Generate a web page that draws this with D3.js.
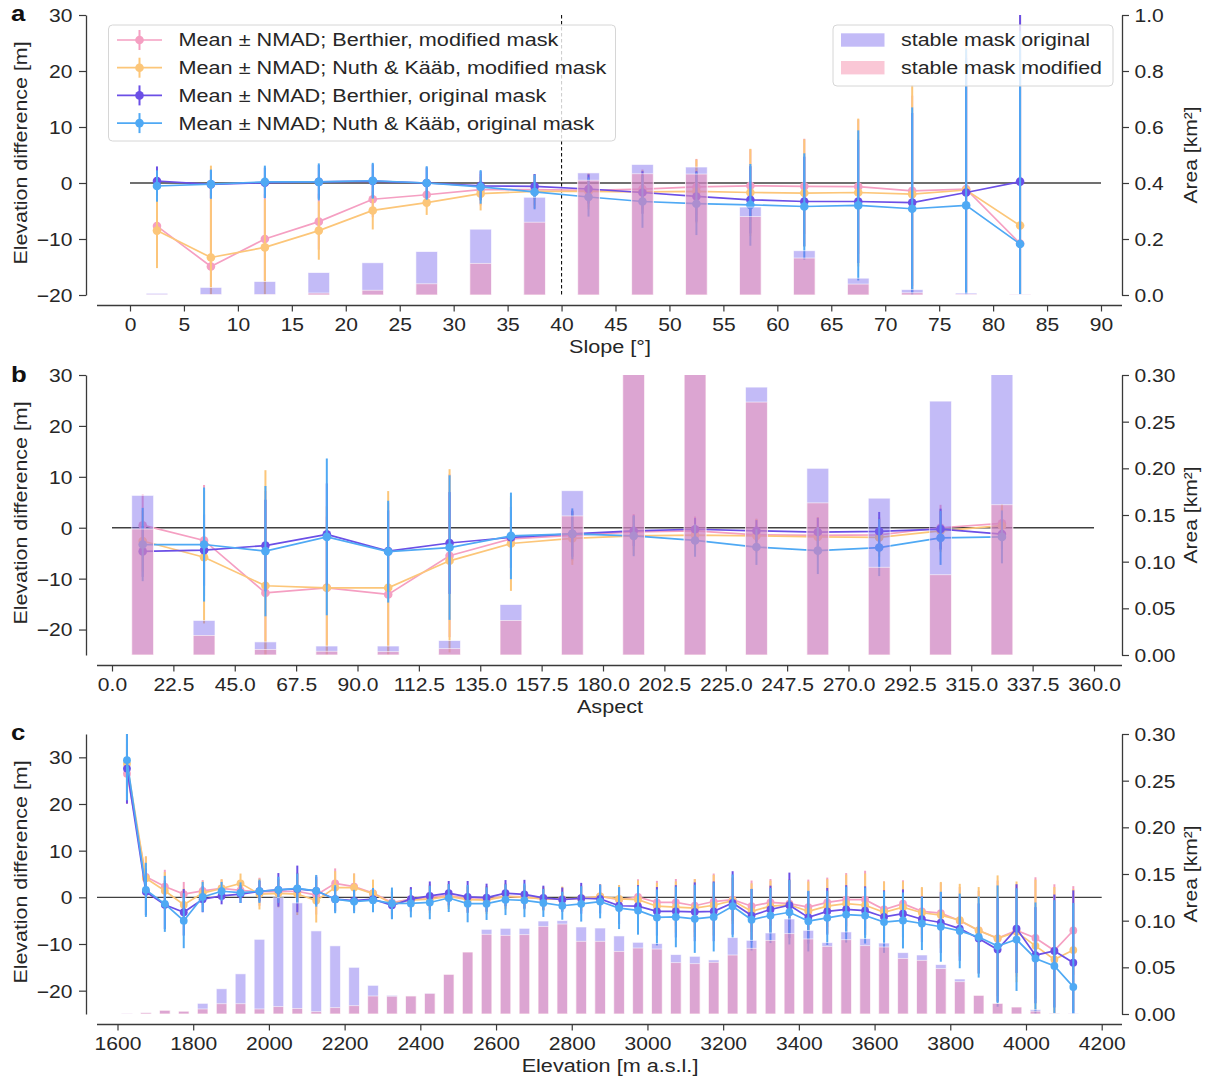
<!DOCTYPE html>
<html><head><meta charset="utf-8">
<script src="https://cdn.jsdelivr.net/npm/d3@7"></script>
<style>
body{margin:0;background:#fff;}
svg{display:block;font-family:"Liberation Sans",Arial,sans-serif;}
</style></head><body>
<script>
// ---------------- DATA ----------------
// Panel a: slope
const slopeBins = [2.5,7.5,12.5,17.5,22.5,27.5,32.5,37.5,42.5,47.5,52.5,57.5,62.5,67.5,72.5,77.5,82.5];
const slopeTicks = [0,5,10,15,20,25,30,35,40,45,50,55,60,65,70,75,80,85,90];
const slopeMeanBerthierMod = [-7.7,-14.9,-10.0,-6.9,-2.9,-2.1,-1.2,-1.2,-1.3,-1.1,-0.7,-0.5,-0.6,-0.65,-1.4,-1.1,-10.8];
const slopeMeanNuthMod = [-8.5,-13.3,-11.5,-8.5,-4.9,-3.5,-1.9,-1.5,-1.5,-1.6,-1.5,-1.7,-1.8,-1.7,-2.0,-1.25,-7.6];
const slopeMeanBerthierOrig = [0.36,-0.24,0.05,0.2,0.35,0.0,-0.5,-0.6,-1.07,-1.7,-2.4,-3.0,-3.3,-3.3,-3.5,-1.7,0.24];
const slopeMeanNuthOrig = [-0.54,-0.2,0.2,0.2,0.4,0.0,-0.7,-1.6,-2.5,-3.3,-3.7,-3.9,-4.2,-4.0,-4.6,-4.0,-10.9];
const slopeNmadBerthierMod = [6.5,15.0,8.0,5.0,3.2,2.0,2.8,2.8,3.0,3.5,5.0,6.5,8.5,12.0,17.0,24.0,34.0];
const slopeNmadNuthMod = [6.7,16.4,8.6,5.2,3.4,2.2,3.0,3.0,3.2,3.8,5.7,7.8,9.6,13.2,19.5,27.0,38.0];
const slopeNmadBerthierOrig = [2.6,2.5,2.7,3.0,3.0,2.8,2.6,2.2,2.6,3.8,4.5,6.0,8.0,11.0,16.0,24.0,30.0];
const slopeNmadNuthOrig = [2.8,2.6,2.9,3.3,3.2,3.0,3.0,3.1,3.5,4.7,5.6,7.3,9.5,13.4,18.1,28.0,38.0];
const slopeAreaOrig = [0.006,0.027,0.048,0.08,0.115,0.155,0.235,0.349,0.436,0.466,0.457,0.314,0.158,0.06,0.019,0.007,0.002];
const slopeAreaMod = [0.001,0.002,0.002,0.007,0.017,0.04,0.113,0.26,0.41,0.433,0.432,0.28,0.132,0.039,0.008,0.003,0.001];

// Panel b: aspect
const aspectBins = [11.25,33.75,56.25,78.75,101.25,123.75,146.25,168.75,191.25,213.75,236.25,258.75,281.25,303.75,326.25];
const aspectTicks = [0,22.5,45,67.5,90,112.5,135,157.5,180,202.5,225,247.5,270,292.5,315,337.5,360];
const aspectMeanBerthierMod = [0.5,-2.5,-12.8,-11.8,-13.1,-5.5,-2.2,-1.5,-0.8,-0.6,-1.4,-1.5,-1.4,0.0,0.85];
const aspectMeanNuthMod = [-2.6,-5.8,-11.4,-11.8,-11.8,-6.5,-3.1,-2.1,-1.6,-1.45,-1.6,-1.8,-1.9,-0.6,0.4];
const aspectMeanBerthierOrig = [-4.65,-4.4,-3.5,-1.3,-4.6,-3.0,-1.9,-1.2,-0.6,-0.3,-0.6,-0.85,-0.7,-0.26,-1.25];
const aspectMeanNuthOrig = [-3.3,-3.3,-4.6,-1.8,-4.7,-3.9,-1.6,-1.2,-1.6,-2.5,-3.8,-4.5,-3.9,-2.0,-1.8];
const aspectNmadBerthierMod = [6.0,10.9,20.0,14.0,18.0,16.0,8.0,5.0,3.5,2.8,3.2,3.6,3.5,4.5,3.5];
const aspectNmadNuthMod = [6.0,13.0,22.7,16.0,19.0,18.0,9.3,5.2,3.8,3.2,3.3,3.8,3.8,4.2,4.2];
const aspectNmadBerthierOrig = [5.0,7.0,9.0,10.0,8.0,10.0,6.0,4.5,3.0,2.2,2.1,2.8,3.8,4.0,3.0];
const aspectNmadNuthOrig = [7.2,11.2,12.8,15.4,10.0,14.2,8.5,5.0,4.0,3.2,3.5,4.6,5.6,5.3,5.2];
const aspectAreaOrig = [0.171,0.037,0.014,0.0096,0.0096,0.0154,0.054,0.176,0.34,0.33,0.287,0.2,0.168,0.272,0.32];
const aspectAreaMod = [0.135,0.021,0.006,0.004,0.0036,0.0068,0.037,0.149,0.33,0.32,0.271,0.163,0.094,0.086,0.161];

// Panel c: elevation
const elevBins = [1625,1675,1725,1775,1825,1875,1925,1975,2025,2075,2125,2175,2225,2275,2325,2375,2425,2475,2525,2575,2625,2675,2725,2775,2825,2875,2925,2975,3025,3075,3125,3175,3225,3275,3325,3375,3425,3475,3525,3575,3625,3675,3725,3775,3825,3875,3925,3975,4025,4075,4125];
const elevTicks = [1600,1800,2000,2200,2400,2600,2800,3000,3200,3400,3600,3800,4000,4200];
const elevMeanBerthierMod = [26.5,4.4,2.3,0.7,1.4,1.9,1.5,1.2,1.2,1.3,0.5,3.0,2.3,0.9,-1.1,-0.4,0.0,0.4,-0.3,-0.4,0.2,0.1,-0.35,-0.4,-0.3,0.2,-0.5,0.07,-1.07,-1.07,-1.8,-0.9,-0.5,-1.9,-1.07,-1.35,-2.1,-1.07,-0.5,-0.5,-2.6,-1.35,-3.0,-3.4,-5.0,-7.1,-8.8,-7.1,-8.7,-11.4,-7.1];
const elevMeanNuthMod = [28.6,4.1,1.4,-1.6,0.9,1.9,3.0,0.7,0.85,0.7,-0.7,2.1,2.1,0.8,-1.3,-0.6,-0.4,0.2,-0.5,-0.6,0.2,0.0,-0.35,-0.4,-0.2,0.2,-0.35,-0.5,-1.9,-2.1,-2.3,-1.7,-0.7,-3.0,-1.9,-1.6,-3.0,-1.9,-1.35,-1.7,-3.2,-2.1,-3.3,-3.8,-4.9,-7.1,-8.8,-7.4,-10.4,-13.3,-11.3];
const elevMeanBerthierOrig = [27.6,1.2,-1.6,-3.2,-0.4,0.3,0.7,1.3,1.6,1.8,1.4,-0.4,-0.7,-0.4,-1.7,-0.4,0.3,0.9,0.1,-0.07,0.9,0.65,-0.1,-0.5,-0.2,-0.35,-1.8,-1.9,-3.0,-3.0,-3.1,-3.0,-1.2,-3.9,-2.6,-1.7,-4.3,-3.0,-2.6,-2.85,-4.2,-3.5,-4.7,-5.4,-6.7,-8.8,-11.2,-6.7,-12.4,-11.5,-14.0];
const elevMeanNuthOrig = [29.4,1.6,-1.4,-5.0,0.1,1.3,1.0,1.3,1.6,1.9,1.4,-0.4,-0.9,-0.6,-1.3,-1.3,-1.1,-0.15,-1.35,-1.35,-0.5,-0.65,-1.2,-1.8,-1.4,-0.9,-2.3,-2.8,-4.3,-4.2,-4.6,-4.2,-1.9,-4.8,-3.9,-3.2,-5.1,-4.4,-3.7,-3.9,-5.3,-4.95,-5.6,-6.3,-7.2,-8.5,-10.45,-9.05,-13.1,-14.7,-19.2];
const elevNmadBerthierMod = [6.5,4.3,3.6,2.6,2.3,1.9,2.0,3.0,2.8,4.0,4.2,3.2,2.8,2.8,2.6,2.4,2.8,2.5,2.6,2.8,2.6,2.4,2.4,2.5,2.6,2.4,2.8,3.8,4.6,5.0,5.7,6.0,4.6,5.5,5.0,5.0,5.9,5.3,5.7,6.2,6.0,5.0,5.0,6.5,7.2,8.5,12.4,9.9,13.0,14.2,9.5];
const elevNmadNuthMod = [7.0,4.7,4.0,3.5,2.5,2.0,2.1,3.3,3.0,4.5,4.7,3.5,3.0,3.0,2.8,2.6,3.0,2.7,2.8,3.0,2.8,2.6,2.6,2.7,2.8,2.6,3.0,4.1,5.0,5.5,6.2,6.5,5.0,6.0,5.5,5.5,6.4,5.8,6.2,6.8,6.6,5.5,5.5,7.1,7.8,9.3,13.5,10.8,14.2,15.5,13.0];
const elevNmadBerthierOrig = [7.5,5.0,5.2,5.0,2.8,1.8,1.9,2.2,3.6,5.0,3.0,2.6,2.2,2.3,2.9,2.6,3.1,2.6,3.4,3.0,2.8,3.1,2.6,2.6,3.3,3.1,3.9,4.5,5.2,5.6,6.3,6.4,6.8,5.7,5.1,7.0,5.6,5.0,5.2,5.2,5.7,5.2,4.9,6.5,6.9,7.5,11.2,9.5,10.3,12.1,15.5];
const elevNmadNuthOrig = [8.6,5.8,6.0,5.9,3.2,2.0,2.2,2.5,2.8,3.2,3.4,3.0,2.5,2.6,3.4,3.0,3.6,3.0,4.0,3.5,3.3,3.6,3.0,3.0,3.8,3.6,4.5,5.2,6.0,6.5,7.3,7.4,6.8,6.6,5.9,6.9,6.5,5.8,6.0,6.0,6.6,6.0,5.7,7.5,8.0,8.7,13.0,11.0,12.0,14.1,18.0];
const elevAreaOrig = [0.0004,0.0014,0.004,0.003,0.0114,0.027,0.043,0.08,0.1246,0.119,0.089,0.073,0.05,0.0307,0.02,0.0193,0.0225,0.0425,0.0664,0.0907,0.0918,0.0918,0.0996,0.1,0.0932,0.0921,0.0836,0.0768,0.0754,0.0636,0.0618,0.0579,0.0818,0.0789,0.0868,0.1018,0.0896,0.0764,0.0879,0.0807,0.076,0.0657,0.0632,0.0529,0.0375,0.02,0.0114,0.0075,0.0046,0.0007,0.0003];
const elevAreaMod = [0.0002,0.0014,0.004,0.003,0.0054,0.011,0.011,0.0054,0.0079,0.006,0.0025,0.0068,0.0089,0.0193,0.019,0.0193,0.022,0.0425,0.0664,0.0854,0.0843,0.085,0.0939,0.0964,0.0779,0.0779,0.0671,0.0707,0.0696,0.055,0.0539,0.0554,0.0632,0.0704,0.0789,0.0861,0.0804,0.0725,0.0796,0.0732,0.0718,0.0596,0.0575,0.0486,0.0346,0.02,0.0114,0.0075,0.003,0.0003,0.0001];

const seriesNames = ["Mean \u00b1 NMAD; Berthier, modified mask","Mean \u00b1 NMAD; Nuth & K\u00e4\u00e4b, modified mask","Mean \u00b1 NMAD; Berthier, original mask","Mean \u00b1 NMAD; Nuth & K\u00e4\u00e4b, original mask"];
const seriesColors = ["#f59fc2","#fcc679","#6b4fe6","#4fa9f4"];
const barNames = ["stable mask original","stable mask modified"];
const barColors = ["rgb(123,104,238)","rgb(245,143,173)"];
const barOpacity = [0.45,0.5];

// ---------------- DRAW ----------------
const W = 1210, H = 1081;
const L = 97, R = 1122, SPL = 86, SPR = 1122;
const FS = 18, SX = 1.17, TXT = "#262626", AX = "#3a3a3a";
const svg = d3.select("body").append("svg").attr("width", W).attr("height", H);
svg.append("rect").attr("width", W).attr("height", H).attr("fill", "#fff");

function txt(g, x, y, s, o = {}) {
  return g.append("text")
    .attr("transform", `translate(${x},${y}) rotate(${o.rot || 0}) scale(${SX},1)`)
    .attr("text-anchor", o.anchor || "start")
    .attr("font-size", (o.size || FS) + "px")
    .attr("font-weight", o.weight || "normal")
    .attr("fill", o.fill || TXT)
    .text(s);
}

function styleAxis(g, kind) {
  g.attr("font-family", null);
  g.selectAll(".tick line").attr("stroke", AX).attr("stroke-width", 1.2);
  g.select(".domain").attr("stroke", AX).attr("stroke-width", 1.3);
  g.selectAll(".tick text").attr("fill", TXT).attr("font-size", FS + "px").attr("x", 0).attr("y", 0).attr("dy", null)
    .attr("transform", kind === "left" ? `translate(-13.5,6.4) scale(${SX},1)` :
                       kind === "right" ? `translate(12.5,6.4) scale(${SX},1)` :
                       `translate(0,25.7) scale(${SX},1)`);
}

function drawPanel(p) {
  const x = d3.scaleLinear().domain(p.xRef).range(p.xPix);
  const y = d3.scaleLinear().domain(p.yDom).range([p.bottom, p.top]);
  const ya = d3.scaleLinear().domain(p.aDom).range([p.bottom, p.top]);
  const cid = "clip" + p.letter;
  svg.append("clipPath").attr("id", cid).append("rect")
    .attr("x", L).attr("y", p.top).attr("width", R - L).attr("height", p.bottom - p.top);
  const plot = svg.append("g").attr("clip-path", `url(#${cid})`);

  // zero line
  plot.append("line").attr("x1", p.zeroFrom == null ? L : x(p.zeroFrom)).attr("x2", x(p.zeroTo))
    .attr("y1", y(0)).attr("y2", y(0)).attr("stroke", "#404040").attr("stroke-width", 1.3);
  if (p.dashAt != null) {
    plot.append("line").attr("x1", x(p.dashAt)).attr("x2", x(p.dashAt))
      .attr("y1", p.top).attr("y2", p.bottom).attr("stroke", "#111").attr("stroke-width", 1.1)
      .attr("stroke-dasharray", "3.5,2.5");
  }

  // series with error bars
  p.series.forEach((s, k) => {
    const col = seriesColors[k];
    const data = p.bins.map((b, i) => ({ b, m: s.mean[i], e: s.nmad[i] }));
    const sg = plot.append("g");
    sg.selectAll("line").data(data).join("line")
      .attr("x1", d => x(d.b)).attr("x2", d => x(d.b))
      .attr("y1", d => y(d.m - d.e)).attr("y2", d => y(d.m + d.e))
      .attr("stroke", col).attr("stroke-width", 2);
    sg.append("path").datum(data)
      .attr("d", d3.line().x(d => x(d.b)).y(d => y(d.m)))
      .attr("fill", "none").attr("stroke", col).attr("stroke-width", 1.7);
    sg.selectAll("circle").data(data).join("circle")
      .attr("cx", d => x(d.b)).attr("cy", d => y(d.m)).attr("r", p.mr)
      .attr("fill", col);
  });

  // area bars (twin axis, drawn on top)
  [p.areaOrig, p.areaMod].forEach((arr, k) => {
    plot.append("g").selectAll("rect").data(p.bins.map((b, i) => ({ b, v: arr[i] }))).join("rect")
      .attr("x", d => x(d.b - p.barW / 2)).attr("width", d => x(d.b + p.barW / 2) - x(d.b - p.barW / 2))
      .attr("y", d => ya(d.v)).attr("height", d => ya(0) - ya(d.v))
      .attr("fill", barColors[k]).attr("fill-opacity", barOpacity[k])
      .attr("stroke", "#fff").attr("stroke-opacity", 0.7).attr("stroke-width", 0.8);
  });

  // axes
  const gl = svg.append("g").attr("transform", `translate(${SPL},0)`)
    .call(d3.axisLeft(y).tickValues(p.yTicks).tickFormat(d3.format("d")).tickSize(7).tickSizeOuter(0));
  styleAxis(gl, "left");
  const gr = svg.append("g").attr("transform", `translate(${SPR},0)`)
    .call(d3.axisRight(ya).tickValues(p.aTicks).tickFormat(d3.format(p.aFmt)).tickSize(7).tickSizeOuter(0));
  styleAxis(gr, "right");
  const sb = p.bottom + 10.5;
  const gb = svg.append("g").attr("transform", `translate(0,${sb})`)
    .call(d3.axisBottom(x).tickValues(p.xTicks).tickFormat(d3.format(p.xFmt)).tickSize(6).tickSizeOuter(0));
  styleAxis(gb, "bottom");
  gb.select(".domain").remove();
  svg.append("line").attr("x1", L).attr("x2", R).attr("y1", sb).attr("y2", sb)
    .attr("stroke", AX).attr("stroke-width", 1.3);

  // labels
  txt(svg, 610, sb + 47.5, p.xLabel, { anchor: "middle", size: 18.5 });
  const cy = (p.top + p.bottom) / 2;
  txt(svg, 26.5, cy - 2, "Elevation difference [m]", { anchor: "middle", rot: -90, size: 18.3 });
  txt(svg, 1197, cy, "Area [km\u00b2]", { anchor: "middle", rot: -90, size: 18 });
  txt(svg, 11, p.letterY, p.letter, { size: 22, weight: "bold", fill: "#111" });
}

drawPanel({
  letter: "a", letterY: 21, top: 15, bottom: 295,
  xRef: [0, 90], xPix: [130, 1101], yDom: [-20, 30], aDom: [0, 1],
  bins: slopeBins, barW: 2.0, mr: 4.3,
  series: [
    { mean: slopeMeanBerthierMod, nmad: slopeNmadBerthierMod },
    { mean: slopeMeanNuthMod, nmad: slopeNmadNuthMod },
    { mean: slopeMeanBerthierOrig, nmad: slopeNmadBerthierOrig },
    { mean: slopeMeanNuthOrig, nmad: slopeNmadNuthOrig }],
  areaOrig: slopeAreaOrig, areaMod: slopeAreaMod,
  xTicks: slopeTicks, xFmt: "d", yTicks: [-20, -10, 0, 10, 20, 30],
  aTicks: [0, 0.2, 0.4, 0.6, 0.8, 1.0], aFmt: ".1f",
  zeroFrom: 0, zeroTo: 90, dashAt: 40, xLabel: "Slope [\u00b0]"
});

drawPanel({
  letter: "b", letterY: 382, top: 375, bottom: 655,
  xRef: [0, 360], xPix: [112, 1094], yDom: [-25, 30], aDom: [0, 0.30],
  bins: aspectBins, barW: 8.0, mr: 4.3,
  series: [
    { mean: aspectMeanBerthierMod, nmad: aspectNmadBerthierMod },
    { mean: aspectMeanNuthMod, nmad: aspectNmadNuthMod },
    { mean: aspectMeanBerthierOrig, nmad: aspectNmadBerthierOrig },
    { mean: aspectMeanNuthOrig, nmad: aspectNmadNuthOrig }],
  areaOrig: aspectAreaOrig, areaMod: aspectAreaMod,
  xTicks: aspectTicks, xFmt: ".1f", yTicks: [-20, -10, 0, 10, 20, 30],
  aTicks: [0, 0.05, 0.10, 0.15, 0.20, 0.25, 0.30], aFmt: ".2f",
  zeroFrom: 0, zeroTo: 360, dashAt: null, xLabel: "Aspect"
});

drawPanel({
  letter: "c", letterY: 740, top: 734, bottom: 1014,
  xRef: [1600, 4200], xPix: [117.5, 1101.7], yDom: [-25, 35], aDom: [0, 0.30],
  bins: elevBins, barW: 28, mr: 3.9,
  series: [
    { mean: elevMeanBerthierMod, nmad: elevNmadBerthierMod },
    { mean: elevMeanNuthMod, nmad: elevNmadNuthMod },
    { mean: elevMeanBerthierOrig, nmad: elevNmadBerthierOrig },
    { mean: elevMeanNuthOrig, nmad: elevNmadNuthOrig }],
  areaOrig: elevAreaOrig, areaMod: elevAreaMod,
  xTicks: elevTicks, xFmt: "d", yTicks: [-20, -10, 0, 10, 20, 30],
  aTicks: [0, 0.05, 0.10, 0.15, 0.20, 0.25, 0.30], aFmt: ".2f",
  zeroFrom: null, zeroTo: 4200, dashAt: null, xLabel: "Elevation [m a.s.l.]"
});

// ---------------- LEGENDS (panel a) ----------------
const lg = svg.append("g");
lg.append("rect").attr("x", 108.5).attr("y", 25).attr("width", 507).attr("height", 116).attr("rx", 4)
  .attr("fill", "#fff").attr("fill-opacity", 0.8).attr("stroke", "#d6d6d6").attr("stroke-width", 1);
seriesNames.forEach((name, k) => {
  const yy = 40 + k * 27.7, col = seriesColors[k];
  lg.append("line").attr("x1", 117).attr("x2", 162).attr("y1", yy).attr("y2", yy).attr("stroke", col).attr("stroke-width", 1.7);
  lg.append("line").attr("x1", 139.5).attr("x2", 139.5).attr("y1", yy - 10).attr("y2", yy + 10).attr("stroke", col).attr("stroke-width", 2);
  lg.append("circle").attr("cx", 139.5).attr("cy", yy).attr("r", 4.3).attr("fill", col);
  txt(lg, 178.5, yy + 6.4, name, { size: 18.5 });
});
const lg2 = svg.append("g");
lg2.append("rect").attr("x", 833).attr("y", 25).attr("width", 280).attr("height", 61).attr("rx", 4)
  .attr("fill", "#fff").attr("fill-opacity", 0.8).attr("stroke", "#d6d6d6").attr("stroke-width", 1);
barNames.forEach((name, k) => {
  const yy = 40 + k * 27.7;
  lg2.append("rect").attr("x", 841).attr("y", yy - 6.7).attr("width", 43.5).attr("height", 13.4)
    .attr("fill", barColors[k]).attr("fill-opacity", barOpacity[k]);
  txt(lg2, 901, yy + 6.4, name, { size: 18.3 });
});
</script></body></html>
